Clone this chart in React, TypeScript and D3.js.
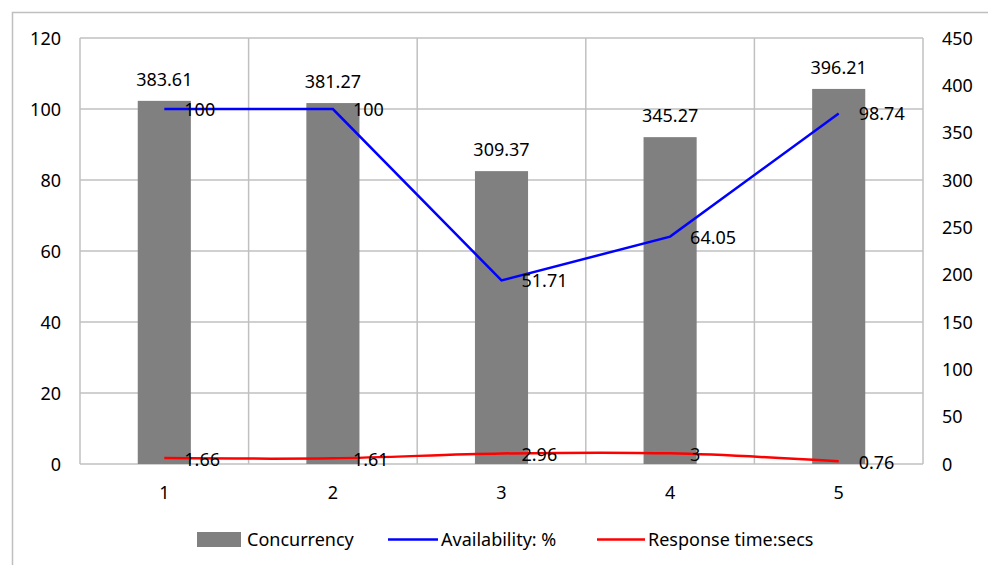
import React from "react";
import * as d3 from "d3";

const categories = ["1", "2", "3", "4", "5"];
const concurrency = [383.61, 381.27, 309.37, 345.27, 396.21];
const availability = [100, 100, 51.71, 64.05, 98.74];
const responseTime = [1.66, 1.61, 2.96, 3, 0.76];
const leftTicks = [0, 20, 40, 60, 80, 100, 120];
const rightTicks = [0, 50, 100, 150, 200, 250, 300, 350, 400, 450];

const W = 988;
const H = 565;
const plot = { left: 80, right: 923, top: 38, bottom: 464 };
const font = "'Noto Sans', 'Open Sans', sans-serif";
const grid = "#C0C0C0";

export default function App() {
  const x = d3
    .scaleBand<string>()
    .domain(categories)
    .range([plot.left, plot.right])
    .paddingInner(0)
    .paddingOuter(0);
  const yLeft = d3.scaleLinear().domain([0, 120]).range([plot.bottom, plot.top]);
  const yRight = d3.scaleLinear().domain([0, 450]).range([plot.bottom, plot.top]);
  const bw = x.bandwidth();
  const barW = bw * 0.315;
  const cx = (c: string) => (x(c) as number) + bw / 2;

  const availLine = d3
    .line<number>()
    .x((_, i) => cx(categories[i]))
    .y((d) => yLeft(d))
    .curve(d3.curveLinear);
  const respLine = d3
    .line<number>()
    .x((_, i) => cx(categories[i]))
    .y((d) => yLeft(d))
    .curve(d3.curveCatmullRom.alpha(0.5));

  const boundaries = categories.map((c) => x(c) as number).concat([plot.right]);

  return (
    <svg
      width={W}
      height={H}
      style={{ position: "absolute", left: 0, top: 0, background: "#fff" }}
      fontFamily={font}
    >
      <rect x={0} y={0} width={W} height={H} fill="#fff" />
      {/* chart frame, extends past the right and bottom edges */}
      <rect x={12.5} y={12.5} width={1100} height={700} fill="none" stroke="#BFBFBF" strokeWidth={1.5} />

      {/* horizontal gridlines */}
      {leftTicks.map((t) => (
        <line key={"h" + t} x1={plot.left} x2={plot.right} y1={yLeft(t)} y2={yLeft(t)} stroke={grid} strokeWidth={1.5} />
      ))}
      {/* vertical gridlines at category boundaries */}
      {boundaries.map((b, i) => (
        <line key={"v" + i} x1={b} x2={b} y1={plot.top} y2={plot.bottom} stroke={grid} strokeWidth={1.5} />
      ))}

      {/* concurrency bars */}
      {concurrency.map((v, i) => (
        <rect
          key={"b" + i}
          x={cx(categories[i]) - barW / 2}
          y={yRight(v)}
          width={barW}
          height={plot.bottom - yRight(v)}
          fill="#808080"
        />
      ))}

      {/* lines */}
      <path d={availLine(availability) || ""} fill="none" stroke="#0000FF" strokeWidth={2.5} />
      <path d={respLine(responseTime) || ""} fill="none" stroke="#FF0000" strokeWidth={2.5} />

      {/* bar labels */}
      {concurrency.map((v, i) => (
        <text key={"bl" + i} x={cx(categories[i])} y={yRight(v) - 15} textAnchor="middle" fontSize={18} fill="#000">
          {v.toFixed(2)}
        </text>
      ))}
      {/* line labels */}
      {availability.map((v, i) => (
        <text key={"al" + i} x={cx(categories[i]) + 20} y={yLeft(v) + 7} fontSize={18} fill="#000">
          {String(v)}
        </text>
      ))}
      {responseTime.map((v, i) => (
        <text key={"rl" + i} x={cx(categories[i]) + 20} y={yLeft(v) + 8} fontSize={18} fill="#000">
          {String(v)}
        </text>
      ))}

      {/* left axis labels */}
      {leftTicks.map((t) => (
        <text key={"lt" + t} x={61} y={yLeft(t) + 6.5} textAnchor="end" fontSize={18} fill="#000">
          {t}
        </text>
      ))}
      {/* right axis labels */}
      {rightTicks.map((t) => (
        <text key={"rt" + t} x={942} y={yRight(t) + 6.5} textAnchor="start" fontSize={18} fill="#000">
          {t}
        </text>
      ))}
      {/* category labels */}
      {categories.map((c) => (
        <text key={"c" + c} x={cx(c)} y={499} textAnchor="middle" fontSize={18} fill="#000">
          {c}
        </text>
      ))}

      {/* legend */}
      <g fontSize={18} fill="#000">
        <rect x={197} y={532} width={44} height={15} fill="#808080" />
        <text x={247} y={546}>Concurrency</text>
        <line x1={388} x2={438} y1={539.5} y2={539.5} stroke="#0000FF" strokeWidth={2.5} />
        <text x={441} y={546}>Availability: %</text>
        <line x1={597} x2={645} y1={539.5} y2={539.5} stroke="#FF0000" strokeWidth={2.5} />
        <text x={648} y={546}>Response time:secs</text>
      </g>
    </svg>
  );
}
